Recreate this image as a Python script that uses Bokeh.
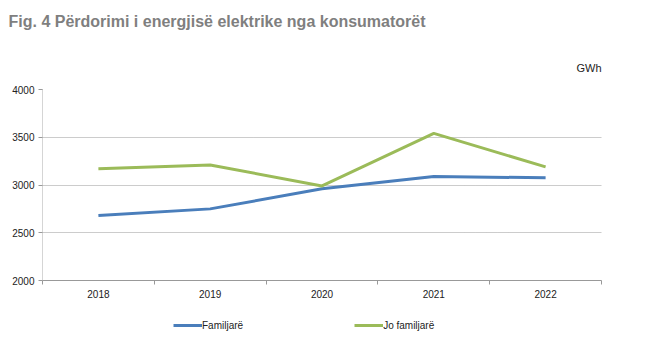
from bokeh.plotting import figure
from bokeh.layouts import column
from bokeh.models import FixedTicker, Legend, LegendItem, Title, Range1d
from bokeh.embed import file_html
from bokeh.resources import INLINE

years = ["2018", "2019", "2020", "2021", "2022"]
familjare = [2680, 2750, 2960, 3090, 3075]
jo_familjare = [3170, 3210, 2990, 3540, 3190]
y_ticks = [2000, 2500, 3000, 3500, 4000]
series_names = ["Familjarë", "Jo familjarë"]
series_colors = ["#4A7EBB", "#9BBB59"]

xs = list(range(len(years)))
FONT = "Liberation Sans"


def blank(fig):
    fig.axis.visible = False
    fig.grid.visible = False
    fig.outline_line_color = None


# title strip
tp = figure(width=645, height=40, output_backend="svg", toolbar_location=None,
            x_range=Range1d(0, 1), y_range=Range1d(0, 1),
            min_border_left=42, min_border_right=44, min_border_top=0,
            min_border_bottom=0, title=None)
blank(tp)
tp.add_layout(Title(text="Fig. 4 Përdorimi i energjisë elektrike nga konsumatorët",
                    align="left", offset=-34, text_font=FONT,
                    text_font_size="16px", text_font_style="bold",
                    text_color="#7f7f7f", standoff=20), "above")

# main chart
p = figure(width=645, height=270, output_backend="svg", toolbar_location=None,
           x_range=Range1d(-0.5, len(years) - 0.5), y_range=Range1d(2000, 4000),
           min_border_left=42, min_border_right=44, min_border_top=49, min_border_bottom=30,
           frame_width=559, frame_height=191, title=None)
p.outline_line_color = None

p.xaxis.ticker = FixedTicker(ticks=xs, minor_ticks=[i - 0.5 for i in range(len(years) + 1)])
p.xaxis.major_label_overrides = {i: y for i, y in enumerate(years)}
p.xaxis.major_tick_line_color = None
p.xaxis.minor_tick_line_color = "#999999"
p.xaxis.minor_tick_in = 0
p.xaxis.minor_tick_out = 4
p.xaxis.axis_line_color = "#999999"
p.xaxis.major_label_text_font = FONT
p.xaxis.major_label_text_font_size = "10px"
p.xaxis.major_label_text_color = "#222222"
p.xaxis.major_label_standoff = 3

p.yaxis.ticker = FixedTicker(ticks=y_ticks)
p.yaxis.axis_line_color = "#aaaaaa"
p.yaxis.axis_line_dash = "1 1"
p.yaxis.major_tick_line_color = "#999999"
p.yaxis.major_tick_in = 0
p.yaxis.major_tick_out = 4
p.yaxis.minor_tick_line_color = None
p.yaxis.major_label_text_font = FONT
p.yaxis.major_label_text_font_size = "10px"
p.yaxis.major_label_text_color = "#222222"
p.yaxis.major_label_standoff = 4

p.xgrid.grid_line_color = None
p.ygrid.grid_line_color = "#999999"
p.ygrid.grid_line_dash = "1 1"

p.line(xs, familjare, line_color=series_colors[0], line_width=3)
p.line(xs, jo_familjare, line_color=series_colors[1], line_width=3)

p.add_layout(Title(text="GWh", align="right", text_font=FONT, text_font_size="11px",
                   text_font_style="normal", text_color="#222222", standoff=31), "above")

# legend strip
lg = figure(width=645, height=34, output_backend="svg", toolbar_location=None,
            x_range=Range1d(0, 1), y_range=Range1d(0, 1),
            min_border_left=42, min_border_right=44, min_border_top=0,
            min_border_bottom=0, title=None)
blank(lg)
items = []
for name, col in zip(series_names, series_colors):
    r = lg.line([5, 6], [5, 6], line_color=col, line_width=3)
    items.append(LegendItem(label=name, renderers=[r]))
legend = Legend(items=items, orientation="horizontal", location=(131, 13),
                glyph_width=29, glyph_height=10, label_standoff=0, spacing=111,
                label_height=12, label_text_font=FONT, label_text_font_size="10px",
                label_text_color="#222222", border_line_color=None,
                background_fill_alpha=0, padding=4, margin=0)
lg.add_layout(legend, "center")

open("out.html", "w").write(file_html(column(tp, p, lg, spacing=0), INLINE))
